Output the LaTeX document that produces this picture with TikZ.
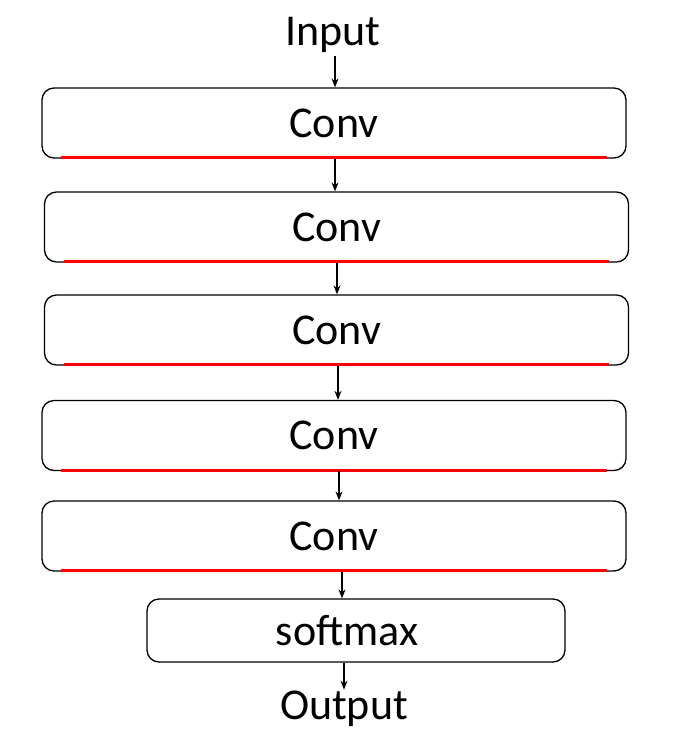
\documentclass[tikz,border=0pt]{standalone}
\usepackage{fontspec}
\setmainfont{Carlito}
\usetikzlibrary{arrows.meta}

\newcommand*{\boxw}{584}
\newcommand*{\boxh}{70}

\begin{document}
\begin{tikzpicture}
[
	convbox/.style={draw,thick,rounded corners=12pt,minimum width=\boxw pt,minimum height=\boxh pt,inner sep=0pt,line width=1.3pt},
	lbl/.style={font=\fontsize{44}{50}\selectfont},
	redline/.style={red,line width=3pt},
	arr/.style={-{Stealth[length=9pt,width=7pt]},line width=1.2pt},
	x=1pt,
	y=-1pt
]

	\useasboundingbox (0,0) rectangle (700,740);

	% input and output
	\node[lbl] at (333,35) (in) {Input};
	\node[lbl] at (344,709) (out) {Output};

	% conv layers
	\node[convbox,lbl] at (334,123) (c1) {Conv};
	\node[convbox,lbl] at (336.5,227) (c2) {Conv};
	\node[convbox,lbl] at (336.5,330) (c3) {Conv};
	\node[convbox,lbl] at (334,435.5) (c4) {Conv};
	\node[convbox,lbl] at (334,536) (c5) {Conv};

	% softmax
	\node[convbox,lbl,minimum width=418pt,minimum height=63pt] at (356,630.5) (sm) {\hspace*{-18pt}softmax};

	% red lines
	\foreach \c in {c1,c2,c3,c4,c5}
		\draw[redline] ([xshift=20pt,yshift=1pt]\c.south west) -- ([xshift=-20pt,yshift=1pt]\c.south east);

	% arrows
	\draw[arr] ([xshift=2pt]in.south) -- ([xshift=1pt]c1.north);
	\draw[arr] ([xshift=1pt]c1.south) -- ([xshift=-1.5pt]c2.north);
	\draw[arr] ([xshift=0.5pt]c2.south) -- ([xshift=0.5pt]c3.north);
	\draw[arr] ([xshift=1.5pt]c3.south) -- ([xshift=4pt]c4.north);
	\draw[arr] ([xshift=5pt]c4.south) -- ([xshift=5pt]c5.north);
	\draw[arr] ([xshift=8pt]c5.south) -- ([xshift=-14pt]sm.north);
	\draw[arr] ([xshift=-12pt]sm.south) -- ([yshift=-2pt]out.north);

\end{tikzpicture}
\end{document}
